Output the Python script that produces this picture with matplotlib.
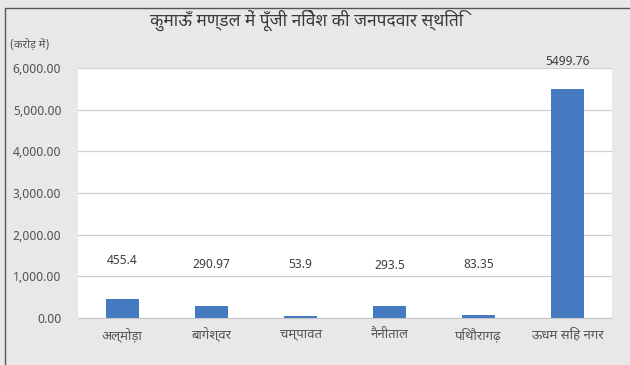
import numpy as np
import matplotlib.pyplot as plt
from matplotlib.patches import Rectangle
from matplotlib.ticker import FuncFormatter

plt.rcParams['font.family'] = ['Noto Sans Devanagari', 'Lohit Devanagari', 'FreeSans', 'Liberation Sans', 'DejaVu Sans']

# data
districts = ['अल्मोड़ा', 'बागेश्वर', 'चम्पावत', 'नैनीताल', 'पिथौरागढ़', 'ऊधम सिंह नगर']
investment = [455.4, 290.97, 53.9, 293.5, 83.35, 5499.76]
value_labels = ['455.4', '290.97', '53.9', '293.5', '83.35', '5499.76']
label_y = [1370, 1290, 1290, 1260, 1290, 6150]

title = 'कुमाऊँ मण्डल में पूँजी निवेश की जनपदवार स्थिति'
unit = '(करोड़ में)'

bg = '#e9e7e7'
bar_color = '#4579c0'
txt = '#555555'

fig = plt.figure(figsize=(6.3, 3.65), dpi=100, facecolor=bg)
fig.patches.append(Rectangle((5 / 630, -0.01), 1.0, 1 - 8 / 365 + 0.01, transform=fig.transFigure,
                             fill=False, edgecolor='#555555', linewidth=1.0))
ax = fig.add_axes([78 / 630, 47 / 365, 534 / 630, 250 / 365])
ax.set_facecolor('white')

x = np.arange(len(districts))
ax.bar(x, investment, width=0.38, color=bar_color, zorder=3)

for xi, lab, ly in zip(x, value_labels, label_y):
    ax.text(xi, ly, lab, ha='center', va='center', fontsize=9, color='#404040', clip_on=False)

ax.set_xlim(-0.5, len(districts) - 0.5)
ax.set_ylim(0, 6000)
ax.set_yticks(np.arange(0, 6001, 1000))
ax.yaxis.set_major_formatter(FuncFormatter(lambda v, p: '{:,.2f}'.format(v)))
ax.set_xticks(x)
ax.set_xticklabels(districts, fontsize=9.5)
ax.tick_params(axis='both', length=0, colors=txt)
ax.tick_params(axis='y', pad=12, labelsize=9)
ax.tick_params(axis='x', pad=7)
ax.grid(axis='y', color='#d0d0d0', linewidth=0.9, zorder=0)
for side in ['top', 'right', 'left']:
    ax.spines[side].set_visible(False)
ax.spines['bottom'].set_color('#c8c8c8')

fig.text(307 / 630, 1 - 20 / 365, title, ha='center', va='center', fontsize=12.5,
         fontweight='bold', color='#3a3a3a')
fig.text(10 / 630, 1 - 45 / 365, unit, ha='left', va='center', fontsize=8, color=txt)

fig.savefig('out.png', dpi=100, facecolor=bg)
